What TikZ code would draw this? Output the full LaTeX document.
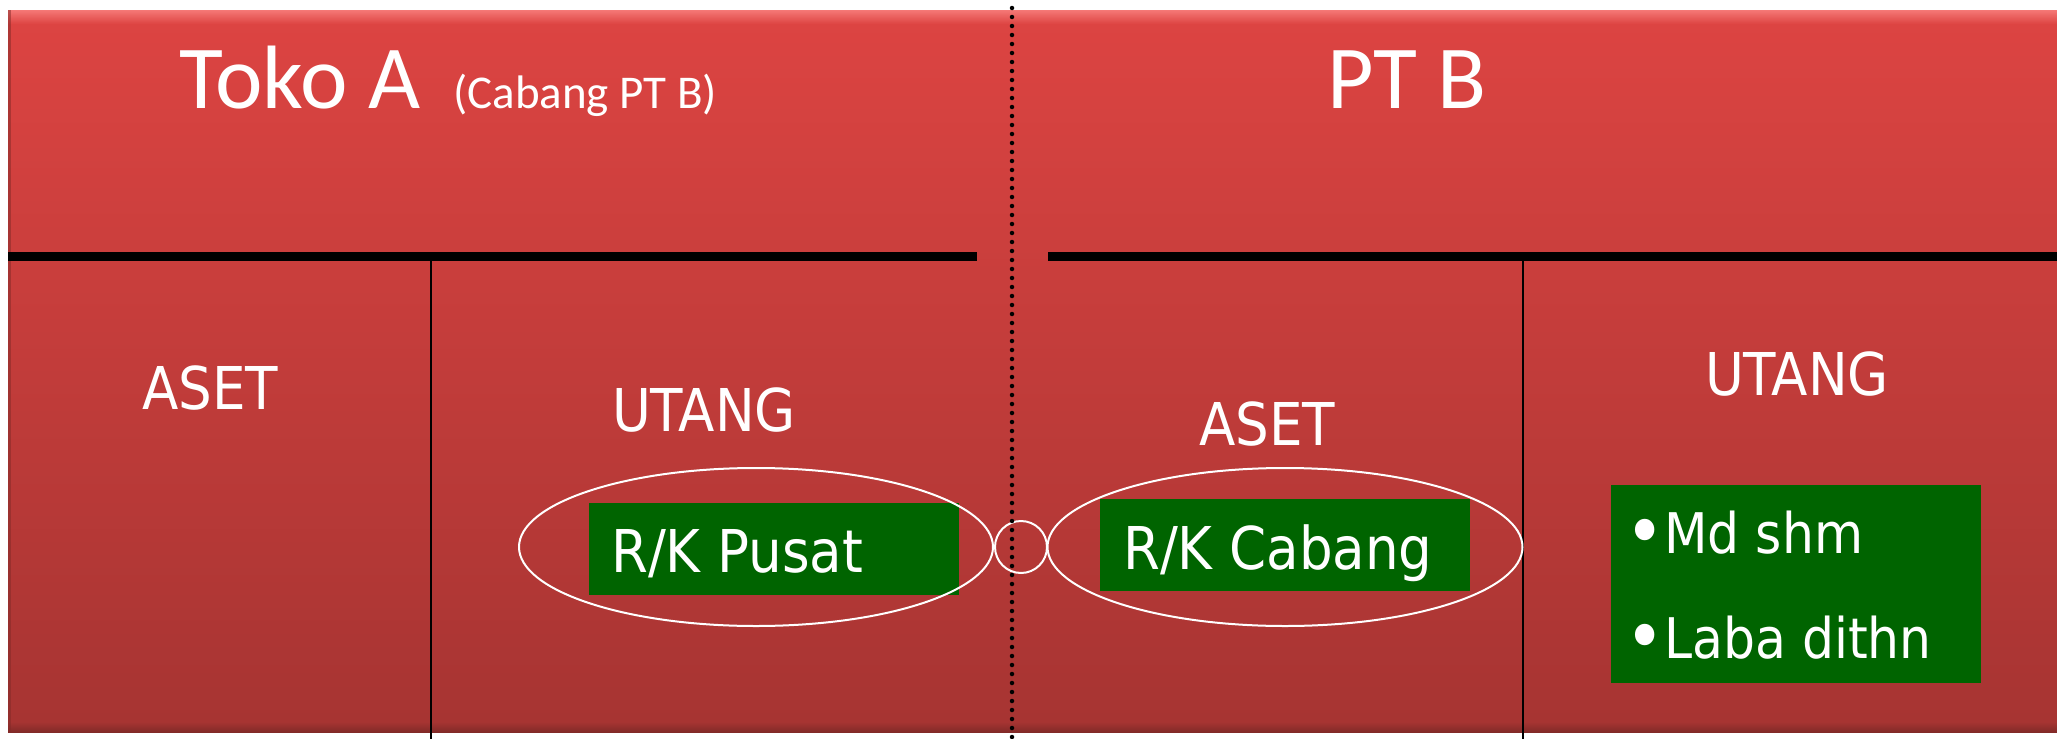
\documentclass[tikz,border=0pt]{standalone}
\usepackage{fontspec}
\setmainfont{Carlito}
\newfontfamily\condfont{DejaVu Sans Condensed}
\usetikzlibrary{shapes.geometric}
\definecolor{redtop}{RGB}{221,68,66}
\definecolor{redbot}{RGB}{166,52,50}
\definecolor{redhi}{RGB}{245,120,118}
\definecolor{reddark}{RGB}{130,42,40}
\definecolor{boxgreen}{RGB}{0,100,0}
\newcommand{\bigbul}{{\fontsize{74}{74}\selectfont\raisebox{-4pt}{•}}}
\tikzset{
  title/.style={text=white, inner sep=0pt, anchor=base west},
  head/.style={text=white, inner sep=0pt, anchor=base, font=\condfont\fontsize{59}{59}\selectfont},
  gtext/.style={text=white, inner sep=0pt, anchor=base west, font=\condfont\fontsize{59}{59}\selectfont},
  btext/.style={text=white, inner sep=0pt, anchor=base west, font=\condfont\fontsize{56}{56}\selectfont},
  gbox/.style={fill=boxgreen, draw=none, inner sep=0pt},
  ring/.style={draw=white, line width=2pt, inner sep=0pt},
  thick rule/.style={line width=9pt},
  thin rule/.style={line width=2pt},
}
\begin{document}
\begin{tikzpicture}[x=1pt, y=-1pt]
\useasboundingbox (0,0) rectangle (2057,739);
\fill[white] (0,0) rectangle (2057,739);
% red panel
\shade[top color=redtop, bottom color=redbot] (8,10) rectangle (2057,732);
\shade[top color=redhi, bottom color=redtop] (8,10) rectangle (2057,24);
\shade[top color=redbot, bottom color=reddark] (8,722) rectangle (2057,732);
\fill[reddark, opacity=0.5] (8,10) rectangle (11,732);
% titles
\node[title, font=\fontsize{90}{90}\selectfont] (toko) at (179,108) {Toko A};
\node[title, font=\fontsize{47}{47}\selectfont] (cab) at (453,108) {(Cabang PT B)};
\node[title, font=\fontsize{90}{90}\selectfont] (ptb) at (1327,108) {PT B};
% rules
\coordinate (l1) at (8,256);
\coordinate (l2) at (977,256);
\coordinate (r1) at (1048,256);
\coordinate (r2) at (2057,256);
\draw[thick rule] (l1) -- (l2);
\draw[thick rule] (r1) -- (r2);
\coordinate (v1t) at (431,256);
\coordinate (v1b) at (431,739);
\coordinate (v2t) at (1523,256);
\coordinate (v2b) at (1523,739);
\draw[thin rule] (v1t) -- (v1b);
\draw[thin rule] (v2t) -- (v2b);
% headings
\node[head] (aset1) at (210,409) {ASET};
\node[head] (utang1) at (704,431) {UTANG};
\node[head] (aset2) at (1267,445) {ASET};
\node[head] (utang2) at (1797,395) {UTANG};
% green boxes
\node[gbox, minimum width=370, minimum height=92] (gp) at (774,549) {};
\node[gtext] (tp) at (611,572) {R/K Pusat};
\node[gbox, minimum width=370, minimum height=92] (gc) at (1285,545) {};
\node[gtext] (tc) at (1123,569) {R/K Cabang};
\node[gbox, minimum width=370, minimum height=198] (gb) at (1796,584) {};
\node[btext] (b1) at (1625,553) {\bigbul Md shm};
\node[btext] (b2) at (1625,658) {\bigbul Laba dithn};
% ellipses and circle
\node[ring, ellipse, minimum width=474, minimum height=158] (e1) at (756,547) {};
\node[ring, circle, minimum size=52] (c1) at (1021,547) {};
\node[ring, ellipse, minimum width=475, minimum height=158] (e2) at (1285,547) {};
% dotted divider
\coordinate (dt) at (1012,8);
\coordinate (db) at (1012,739);
\draw[line width=4.5pt, dash pattern=on 0pt off 9pt, line cap=round] (dt) -- (db);
\end{tikzpicture}
\end{document}
